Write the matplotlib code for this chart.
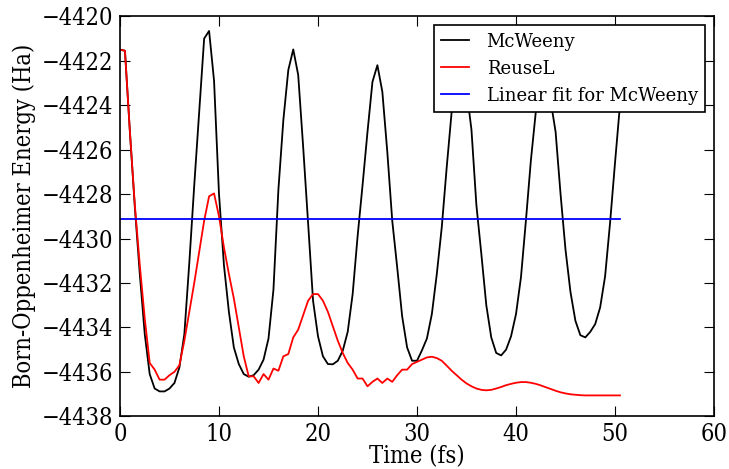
import numpy as np
import matplotlib
matplotlib.use("Agg")
import matplotlib.pyplot as plt

plt.rcParams['font.family'] = ['DejaVu Serif']
plt.rcParams['font.stretch'] = 'condensed'
plt.rcParams['axes.unicode_minus'] = True

# time step of the trajectory (fs)
dt = 0.5

# Born-Oppenheimer energy (Ha)
mcweeny = [
    -4421.5, -4421.55, -4425.2, -4428.6, -4431.6, -4434.3, -4436.1, -4436.75,
    -4436.88, -4436.88, -4436.75, -4436.5, -4435.8, -4434.3, -4431.1, -4427.6,
    -4424.3, -4421.0, -4420.66, -4422.9, -4428.0, -4431.2, -4433.3, -4434.9,
    -4435.65, -4436.1, -4436.22, -4436.15, -4435.9, -4435.45, -4434.5, -4432.3,
    -4427.8, -4424.67, -4422.42, -4421.49, -4422.64, -4425.87, -4429.3, -4432.8,
    -4434.4, -4435.3, -4435.65, -4435.66, -4435.5, -4435.05, -4434.2, -4432.5,
    -4429.9, -4427.6, -4425.2, -4422.95, -4422.2, -4423.4, -4426.1, -4429.2,
    -4431.3, -4433.5, -4434.9, -4435.5, -4435.5, -4435.03, -4434.5, -4433.4,
    -4431.6, -4429.5, -4426.8, -4424.3, -4423.0, -4422.9, -4423.3, -4425.1,
    -4428.5, -4430.7, -4433.0, -4434.45, -4435.15, -4435.26, -4435.0, -4434.4,
    -4433.4, -4431.75, -4429.2, -4426.5, -4424.3, -4423.5, -4423.35, -4423.8,
    -4425.2, -4428.0, -4430.5, -4432.4, -4433.7, -4434.35, -4434.45, -4434.2,
    -4433.85, -4433.1, -4431.7, -4429.3, -4426.6, -4424.0,
]

reusel = [
    -4421.5, -4421.55, -4425.2, -4428.5, -4431.2, -4433.6, -4435.6, -4435.9,
    -4436.35, -4436.35, -4436.15, -4436.0, -4435.7, -4434.6, -4433.3, -4432.0,
    -4430.6, -4429.2, -4428.1, -4427.97, -4429.0, -4430.4, -4431.6, -4432.7,
    -4434.0, -4435.3, -4436.2, -4436.2, -4436.5, -4436.1, -4436.35, -4435.85,
    -4435.95, -4435.3, -4435.2, -4434.45, -4434.1, -4433.45, -4432.8, -4432.5,
    -4432.5, -4432.8, -4433.3, -4433.95, -4434.6, -4435.15, -4435.6, -4435.9,
    -4436.3, -4436.3, -4436.65, -4436.45, -4436.3, -4436.5, -4436.3, -4436.45,
    -4436.15, -4435.9, -4435.9, -4435.65, -4435.55, -4435.45, -4435.35, -4435.32,
    -4435.38, -4435.5, -4435.72, -4435.95, -4436.15, -4436.35, -4436.52, -4436.65,
    -4436.75, -4436.81, -4436.83, -4436.81, -4436.75, -4436.68, -4436.6, -4436.54,
    -4436.49, -4436.46, -4436.46, -4436.49, -4436.54, -4436.61, -4436.69, -4436.77,
    -4436.85, -4436.92, -4436.97, -4437.01, -4437.03, -4437.05, -4437.06, -4437.06,
    -4437.06, -4437.06, -4437.06, -4437.06, -4437.06, -4437.06,
]

# linear fit for McWeeny (flat)
fit_slope = 0.0
fit_intercept = -4429.13

time = np.arange(len(mcweeny)) * dt
fit = fit_intercept + fit_slope * time

fig = plt.figure(figsize=(7.29, 4.69), dpi=100)
ax = fig.add_axes([120 / 729, 52.7 / 469, 594 / 729, 400 / 469])

ax.plot(time, mcweeny, color='black', lw=1.3, label='McWeeny')
ax.plot(time, reusel, color='red', lw=1.3, label='ReuseL')
ax.plot(time, fit, color='blue', lw=1.3, label='Linear fit for McWeeny')

ax.set_xlim(0, 60)
ax.set_ylim(-4438, -4420)
ax.set_xticks(range(0, 61, 10))
ax.set_yticks(range(-4438, -4419, 2))
ax.ticklabel_format(useOffset=False)
ax.tick_params(direction='in', top=True, right=True, length=7.5, width=0.8,
               labelsize=17, pad=5)
for sp in ax.spines.values():
    sp.set_linewidth(1.2)

ax.set_xlabel('Time (fs)', fontsize=17, labelpad=-1)
ax.set_ylabel('Born-Oppenheimer Energy (Ha)', fontsize=17, labelpad=4)

leg = ax.legend(loc='upper right', prop={'size': 13, 'stretch': 'normal'},
                fancybox=False, handlelength=1.5, handletextpad=1.0,
                framealpha=1)
leg.get_frame().set_edgecolor('black')
leg.get_frame().set_linewidth(1.2)

fig.savefig('out.png', dpi=100)
